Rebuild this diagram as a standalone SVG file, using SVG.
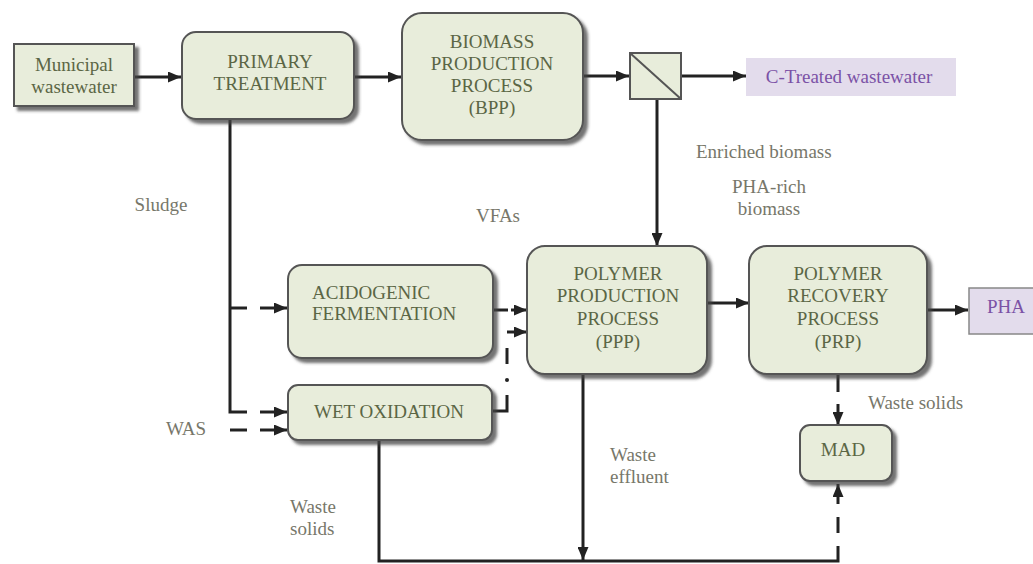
<svg xmlns="http://www.w3.org/2000/svg" width="1033" height="564" viewBox="0 0 1033 564">
<style>
.box{fill:#e8eddb;stroke:#555;stroke-width:2;filter:url(#sh)}
.out{fill:#e3dcec}
.nt{font-family:"Liberation Serif","Times New Roman",serif;font-size:19px;fill:#5b6645;text-anchor:middle}
.ns{text-anchor:start}
.lt{font-family:"Liberation Serif","Times New Roman",serif;font-size:19px;fill:#77776a}
.pt{font-family:"Liberation Serif","Times New Roman",serif;font-size:19px;fill:#7b52a6;text-anchor:middle}
.c{fill:none;stroke:#222;stroke-width:3}
.a{marker-end:url(#ah)}
</style>
<defs>
<filter id="sh" x="-10%" y="-10%" width="130%" height="130%">
<feDropShadow dx="4" dy="4" stdDeviation="1.5" flood-color="#444" flood-opacity="0.75"/>
</filter>
<marker id="ah" markerUnits="userSpaceOnUse" markerWidth="13" markerHeight="11" refX="13" refY="5.5" orient="auto">
<path d="M0,0 L13,5.5 L0,11 z" fill="#222"/>
</marker>
</defs>
<rect width="1033" height="564" fill="#fff"/>

<g id="connectors">
<path class="c a" d="M134,77 H181"/>
<path class="c a" d="M355,77 H401"/>
<path class="c a" d="M583,76 H629"/>
<path class="c a" d="M681,76 H746"/>
<path class="c a" d="M657,99 V246"/>
<path class="c" d="M230,119 V412 H247"/>
<path class="c a" d="M260,412 H287"/>
<path class="c" d="M230,308 H247"/>
<path class="c a" d="M260,308 H287"/>
<path class="c" d="M230,430 H247"/>
<path class="c a" d="M260,430 H287"/>
<path class="c" d="M493,310 H508"/>
<path class="c a" d="M511,310 H527"/>
<path class="c a" d="M507,332 H527"/>
<path class="c" d="M507,348 V364"/>
<circle cx="507" cy="380" r="2" fill="#222"/>
<path class="c" d="M492,411 H507 V395"/>
<path class="c a" d="M707,303 H749"/>
<path class="c a" d="M927,310 H968"/>
<path class="c" d="M838,374 V392"/>
<path class="c a" d="M838,404 V425"/>
<path class="c a" d="M583,374 V560"/>
<path class="c" d="M379,440 V561 H838 V546"/>
<path class="c" d="M838,533 V517"/>
<path class="c a" d="M838,504 V484"/>
</g>

<g id="municipal">
<rect class="box" x="14" y="44" width="120" height="62"/>
<text class="nt" x="74" y="71">Municipal</text>
<text class="nt" x="74" y="93">wastewater</text>
</g>

<g id="primary">
<rect class="box" x="182" y="32" width="172" height="87" rx="14"/>
<text class="nt" x="270" y="68">PRIMARY</text>
<text class="nt" x="270" y="90">TREATMENT</text>
</g>

<g id="bpp">
<rect class="box" x="402" y="13" width="181" height="127" rx="20"/>
<text class="nt" x="492" y="48">BIOMASS</text>
<text class="nt" x="492" y="70">PRODUCTION</text>
<text class="nt" x="492" y="92">PROCESS</text>
<text class="nt" x="492" y="114">(BPP)</text>
</g>

<g id="separator">
<rect x="630" y="53" width="51" height="46" fill="#e8eddb" stroke="#555" stroke-width="2"/>
<line x1="630" y1="53" x2="681" y2="99" stroke="#555" stroke-width="2"/>
</g>

<g id="ctreated">
<rect class="out" x="746" y="58" width="210" height="38"/>
<text class="pt" x="849" y="83">C-Treated wastewater</text>
</g>

<g id="acidogenic">
<rect class="box" x="288" y="265" width="205" height="93" rx="14"/>
<text class="nt ns" x="312" y="299">ACIDOGENIC</text>
<text class="nt ns" x="312" y="320">FERMENTATION</text>
</g>

<g id="wetox">
<rect class="box" x="288" y="385" width="204" height="55" rx="10"/>
<text class="nt" x="389" y="418">WET OXIDATION</text>
</g>

<g id="ppp">
<rect class="box" x="527" y="246" width="180" height="128" rx="18"/>
<text class="nt" x="618" y="280">POLYMER</text>
<text class="nt" x="618" y="302">PRODUCTION</text>
<text class="nt" x="618" y="325">PROCESS</text>
<text class="nt" x="618" y="348">(PPP)</text>
</g>

<g id="prp">
<rect class="box" x="749" y="246" width="178" height="128" rx="18"/>
<text class="nt" x="838" y="280">POLYMER</text>
<text class="nt" x="838" y="302">RECOVERY</text>
<text class="nt" x="838" y="325">PROCESS</text>
<text class="nt" x="838" y="348">(PRP)</text>
</g>

<g id="pha">
<rect class="out" x="969" y="288" width="70" height="46" stroke="#888" stroke-width="1.5"/>
<text class="pt" x="1006" y="313">PHA</text>
</g>

<g id="mad">
<rect class="box" x="800" y="425" width="92" height="56" rx="10"/>
<text class="nt" x="843" y="456">MAD</text>
</g>

<g id="labels">
<text class="lt" x="161" y="211" text-anchor="middle">Sludge</text>
<text class="lt" x="498" y="222" text-anchor="middle">VFAs</text>
<text class="lt" x="696" y="158">Enriched biomass</text>
<text class="lt" x="769" y="193" text-anchor="middle">PHA-rich</text>
<text class="lt" x="769" y="215" text-anchor="middle">biomass</text>
<text class="lt" x="186" y="435" text-anchor="middle">WAS</text>
<text class="lt" x="290" y="513">Waste</text>
<text class="lt" x="290" y="535">solids</text>
<text class="lt" x="610" y="461">Waste</text>
<text class="lt" x="610" y="483">effluent</text>
<text class="lt" x="868" y="409">Waste solids</text>
</g>
</svg>
